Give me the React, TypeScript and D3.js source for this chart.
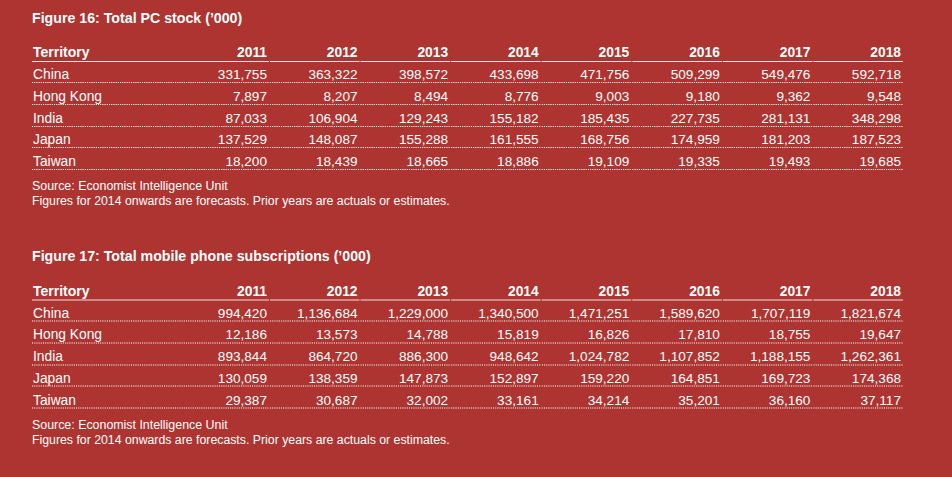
import React from 'react';
import * as d3 from 'd3';

const years = ['2011', '2012', '2013', '2014', '2015', '2016', '2017', '2018'];
const territories = ['China', 'Hong Kong', 'India', 'Japan', 'Taiwan'];

const pcChina = [331755, 363322, 398572, 433698, 471756, 509299, 549476, 592718];
const pcHongKong = [7897, 8207, 8494, 8776, 9003, 9180, 9362, 9548];
const pcIndia = [87033, 106904, 129243, 155182, 185435, 227735, 281131, 348298];
const pcJapan = [137529, 148087, 155288, 161555, 168756, 174959, 181203, 187523];
const pcTaiwan = [18200, 18439, 18665, 18886, 19109, 19335, 19493, 19685];

const mobChina = [994420, 1136684, 1229000, 1340500, 1471251, 1589620, 1707119, 1821674];
const mobHongKong = [12186, 13573, 14788, 15819, 16826, 17810, 18755, 19647];
const mobIndia = [893844, 864720, 886300, 948642, 1024782, 1107852, 1188155, 1262361];
const mobJapan = [130059, 138359, 147873, 152897, 159220, 164851, 169723, 174368];
const mobTaiwan = [29387, 30687, 32002, 33161, 34214, 35201, 36160, 37117];

const title16 = 'Figure 16: Total PC stock (\u2019000)';
const title17 = 'Figure 17: Total mobile phone subscriptions (\u2019000)';
const headerLabel = 'Territory';
const sourceText = 'Source: Economist Intelligence Unit';
const noteText = 'Figures for 2014 onwards are forecasts. Prior years are actuals or estimates.';

const W = 952;
const H = 477;
const BG = '#ad3430';
const FONT = '"Liberation Sans", Arial, Helvetica, sans-serif';
const fmt = d3.format(',');

const LEFT = 32;
const x = d3.scaleBand<string>().domain(years).range([179.4, 904]).paddingInner(0).paddingOuter(0);
const rowLine = d3.scaleLinear().domain([0, 1]).range([82, 103.75]);

function Table({ offset, title, rows }: { offset: number; title: string; rows: number[][] }) {
  const segs = years.map((yr, i) => {
    const x0 = i === 0 ? LEFT : (x(yr) as number);
    const x1 = (x(yr) as number) + x.bandwidth() - 1;
    return { x0, x1 };
  });
  return (
    <g transform={`translate(0,${offset})`}>
      <text x={LEFT} y={22.5} fill="#fff" fontSize={14.2} fontWeight="bold" fontFamily={FONT}>
        {title}
      </text>
      <text x={LEFT + 1} y={57.3} fill="#fff" fontSize={14} fontWeight="bold" fontFamily={FONT}>
        {headerLabel}
      </text>
      {years.map((yr) => (
        <text
          key={yr}
          x={(x(yr) as number) + x.bandwidth() - 3}
          y={57.3}
          textAnchor="end"
          fill="#fff"
          fontSize={13.8}
          fontWeight="bold"
          fontFamily={FONT}
        >
          {yr}
        </text>
      ))}
      {segs.map((s, i) => (
        <line key={'h' + i} x1={s.x0} x2={s.x1} y1={61.5} y2={61.5} stroke="#fff" strokeOpacity={0.85} strokeWidth={1} />
      ))}
      {territories.map((t, r) => {
        const ly = rowLine(r);
        return (
          <g key={t}>
            <text x={LEFT + 1} y={ly - 3} fill="#fff" fontSize={13.8} fontFamily={FONT}>
              {t}
            </text>
            {years.map((yr, c) => (
              <text
                key={yr}
                x={(x(yr) as number) + x.bandwidth() - 3}
                y={ly - 3}
                textAnchor="end"
                fill="#fff"
                fontSize={13.6}
                fontFamily={FONT}
              >
                {fmt(rows[r][c])}
              </text>
            ))}
            {segs.map((s, i) => (
              <line
                key={'d' + i}
                x1={s.x0}
                x2={s.x1}
                y1={Math.round(ly) + 0.5}
                y2={Math.round(ly) + 0.5}
                stroke="#fff"
                strokeWidth={1.1}
                strokeDasharray="1.1,1.1"
              />
            ))}
          </g>
        );
      })}
      <text x={LEFT} y={190} fill="#fff" fontSize={12.4} fontFamily={FONT}>
        {sourceText}
      </text>
      <text x={LEFT} y={205} fill="#fff" fontSize={12.3} fontFamily={FONT}>
        {noteText}
      </text>
    </g>
  );
}

export default function App() {
  const pcRows = [pcChina, pcHongKong, pcIndia, pcJapan, pcTaiwan];
  const mobRows = [mobChina, mobHongKong, mobIndia, mobJapan, mobTaiwan];
  return (
    <svg
      width={W}
      height={H}
      viewBox={`0 0 ${W} ${H}`}
      style={{ position: 'absolute', left: 0, top: 0, display: 'block' }}
    >
      <rect x={0} y={0} width={W} height={H} fill={BG} />
      <Table offset={0} title={title16} rows={pcRows} />
      <Table offset={238.5} title={title17} rows={mobRows} />
    </svg>
  );
}
